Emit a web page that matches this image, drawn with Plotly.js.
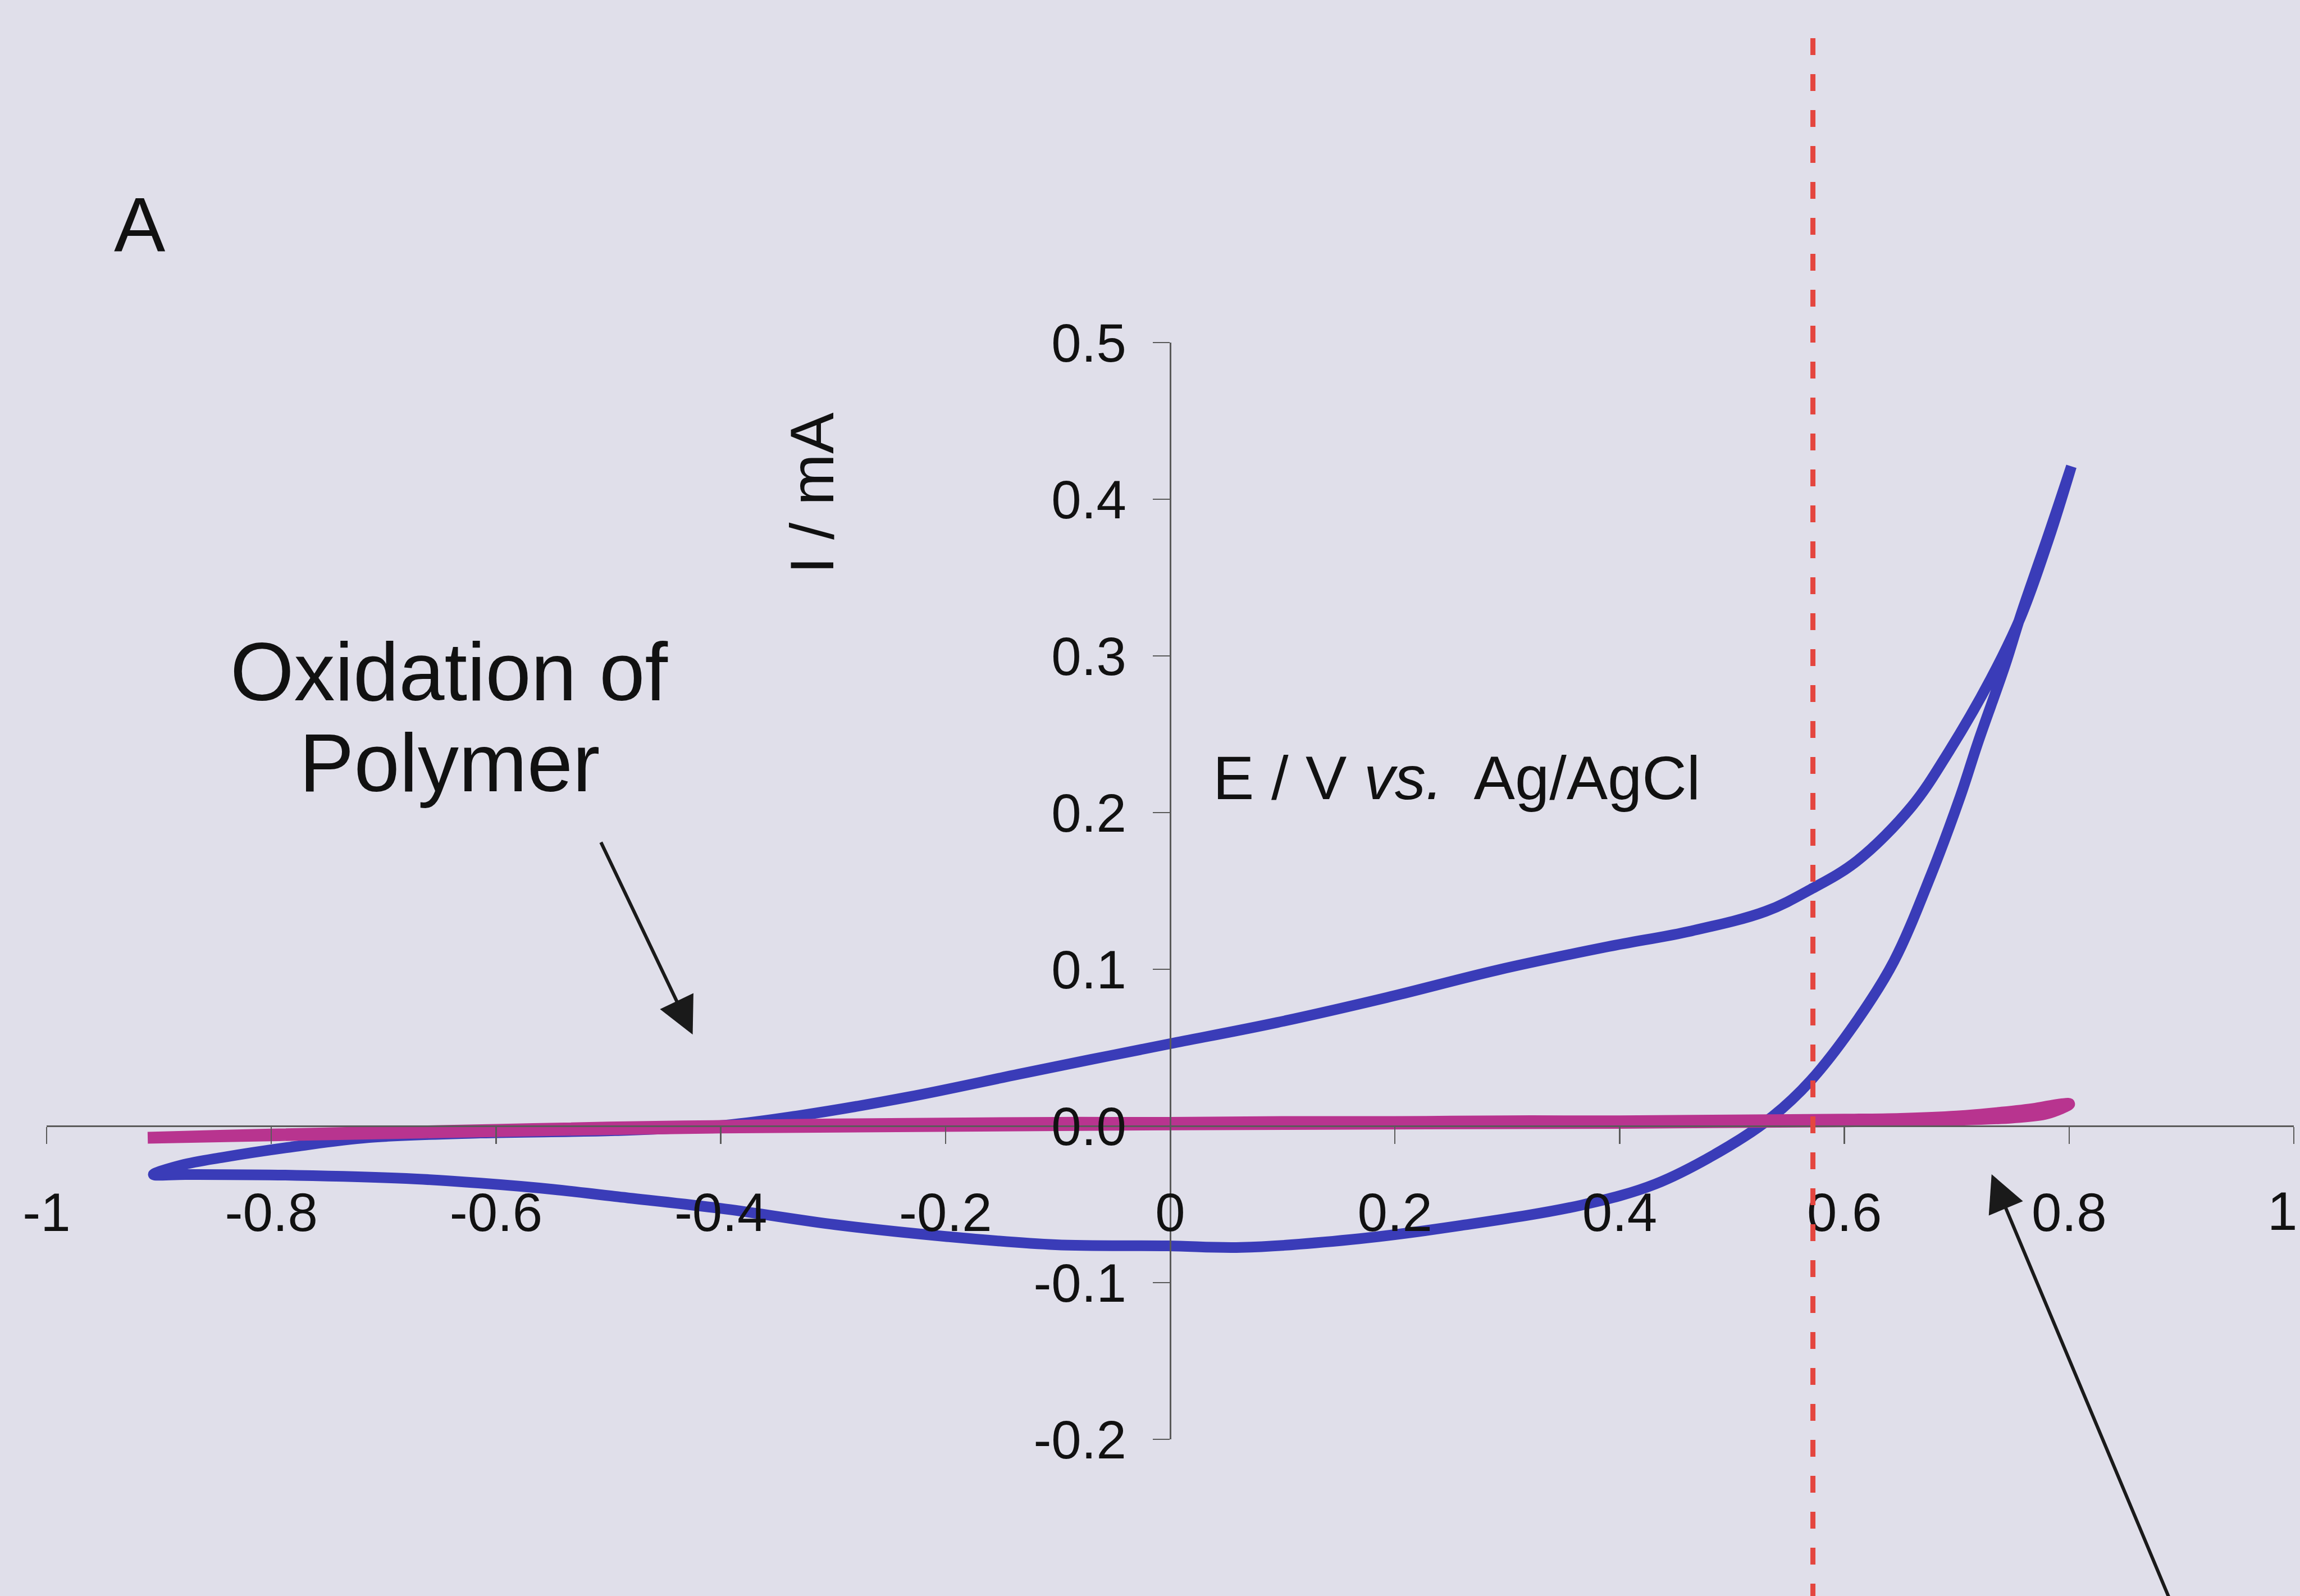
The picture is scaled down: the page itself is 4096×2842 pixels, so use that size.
<!DOCTYPE html>
<html>
<head>
<meta charset="utf-8">
<script src="https://cdn.plot.ly/plotly-3.0.1.min.js"></script>
<style>
  html, body { margin: 0; padding: 0; background: #e0dfea; }
  #chart { width: 4096px; height: 2842px; }
</style>
</head>
<body>
<div id="chart"></div>
<script>
// ---- Data ----
// Polymer-coated electrode CV (blue): forward (upper) branch then reverse (lower) branch
const blueForwardE = [-0.905, -0.880, -0.843, -0.778, -0.713, -0.614, -0.494, -0.396, -0.331, -0.233, -0.135, -0.070, 0.000, 0.095, 0.193, 0.291, 0.390, 0.464, 0.530, 0.570, 0.611, 0.660, 0.693, 0.730, 0.757, 0.782, 0.802];
const blueForwardI = [-0.031, -0.025, -0.020, -0.013, -0.0074, -0.0045, -0.003, 0.0005, 0.0065, 0.0185, 0.033, 0.0425, 0.0525, 0.066, 0.082, 0.0995, 0.1145, 0.1245, 0.137, 0.151, 0.169, 0.204, 0.239, 0.285, 0.325, 0.375, 0.421];
const blueReverseE = [0.802, 0.782, 0.757, 0.743, 0.719, 0.703, 0.677, 0.644, 0.611, 0.570, 0.536, 0.497, 0.432, 0.366, 0.259, 0.161, 0.063, -0.002, -0.102, -0.200, -0.298, -0.396, -0.494, -0.549, -0.614, -0.680, -0.778, -0.876, -0.905];
const blueReverseI = [0.421, 0.378, 0.326, 0.294, 0.245, 0.210, 0.160, 0.105, 0.067, 0.029, 0.006, -0.013, -0.037, -0.0505, -0.0635, -0.0725, -0.0775, -0.0765, -0.0758, -0.0705, -0.063, -0.053, -0.045, -0.0405, -0.0365, -0.0335, -0.0315, -0.031, -0.031];

// Bare electrode CV (magenta)
const magentaE = [-0.910, -0.80, -0.70, -0.60, -0.50, -0.40, -0.30, -0.20, -0.10, 0.00, 0.10, 0.20, 0.30, 0.40, 0.50, 0.60, 0.65, 0.70, 0.74, 0.77, 0.79, 0.80, 0.78, 0.75, 0.70, 0.60, 0.40, 0.00, -0.40, -0.80, -0.910];
const magentaI = [-0.0075, -0.0055, -0.004, -0.0025, -0.001, 0.000, 0.001, 0.0015, 0.002, 0.002, 0.0025, 0.0025, 0.003, 0.003, 0.0035, 0.004, 0.0045, 0.006, 0.0085, 0.011, 0.0135, 0.014, 0.008, 0.0055, 0.004, 0.003, 0.002, 0.001, -0.001, -0.006, -0.0075];

// Marker potential (red dashed line)
const markerE = 0.572;

// Axis ticks (the last x label "1" sits at the page edge, drawn as a separate text)
const xTickVals = [-1, -0.8, -0.6, -0.4, -0.2, 0, 0.2, 0.4, 0.6, 0.8, 1];
const xTickText = ['-1', '-0.8', '-0.6', '-0.4', '-0.2', '0', '0.2', '0.4', '0.6', '0.8', ''];
const xEdgeLabel = '1';
const yTickVals = [-0.2, -0.1, 0, 0.1, 0.2, 0.3, 0.4, 0.5];
const yTickText = ['-0.2', '-0.1', '0.0', '0.1', '0.2', '0.3', '0.4', '0.5'];

// Annotation texts
const panelLabel = 'A';
const oxLine1 = 'Oxidation of';
const oxLine2 = 'Polymer';
const xLabel = 'E / V <i>vs.</i>  Ag/AgCl';
const yLabel = 'I / mA';

// ---- Layout ----
const W = 4096, H = 2842;
const mL = 83, mR = 11, mT = 610, mB = 279;
const xRange = [-1, 1], yRange = [-0.2, 0.5];
const plotW = W - mL - mR, plotH = H - mT - mB;
const px = v => (v - mL) / plotW;          // pixel -> paper x
const py = v => (H - mB - v) / plotH;      // pixel -> paper y

const font = 'Liberation Sans, Arial, sans-serif';
const axisColor = '#5a5a5a';
const bg = '#e0dfea';

const traces = [
  {
    x: blueForwardE.concat(blueReverseE),
    y: blueForwardI.concat(blueReverseI),
    mode: 'lines',
    line: { color: '#3a3cb8', width: 19, shape: 'spline', smoothing: 1.0 },
    hoverinfo: 'skip'
  },
  {
    x: magentaE,
    y: magentaI,
    mode: 'lines',
    line: { color: '#b8348f', width: 21, shape: 'spline', smoothing: 1.0 },
    hoverinfo: 'skip'
  }
];

const layout = {
  width: W, height: H,
  paper_bgcolor: bg, plot_bgcolor: bg,
  margin: { l: mL, r: mR, t: mT, b: mB, pad: 0 },
  showlegend: false,
  hovermode: false,
  font: { family: font, color: '#111' },
  xaxis: {
    range: xRange,
    anchor: 'free',
    position: (0 - yRange[0]) / (yRange[1] - yRange[0]),
    showgrid: false, zeroline: false,
    showline: true, linecolor: axisColor, linewidth: 2.5,
    ticks: 'outside', ticklen: 30, tickwidth: 2.5, tickcolor: axisColor,
    tickmode: 'array', tickvals: xTickVals, ticktext: xTickText,
    tickfont: { family: font, size: 96, color: '#111' },
    ticklabelstandoff: 40,
    ticklabeloverflow: 'allow',
    fixedrange: true
  },
  yaxis: {
    range: yRange,
    anchor: 'free',
    position: (0 - xRange[0]) / (xRange[1] - xRange[0]),
    showgrid: false, zeroline: false,
    showline: true, linecolor: axisColor, linewidth: 2.5,
    ticks: 'outside', ticklen: 30, tickwidth: 2.5, tickcolor: axisColor,
    tickmode: 'array', tickvals: yTickVals, ticktext: yTickText,
    tickfont: { family: font, size: 96, color: '#111' },
    ticklabelstandoff: 28,
    ticklabeloverflow: 'allow',
    fixedrange: true
  },
  shapes: [
    {
      type: 'line', xref: 'x', yref: 'paper',
      x0: markerE, x1: markerE, y0: py(2850), y1: py(40),
      line: { color: '#e4463f', width: 9, dash: '30px,34px' },
      layer: 'above'
    }
  ],
  annotations: [
    {
      text: xEdgeLabel, xref: 'paper', yref: 'paper',
      x: px(4093), y: py(2156), xanchor: 'right', yanchor: 'middle',
      showarrow: false, font: { family: font, size: 96, color: '#111' }
    },
    {
      text: panelLabel, xref: 'paper', yref: 'paper',
      x: px(249), y: py(401), xanchor: 'center', yanchor: 'middle',
      showarrow: false, font: { family: font, size: 137, color: '#111' }
    },
    {
      text: oxLine1, xref: 'paper', yref: 'paper',
      x: px(800), y: py(1196), xanchor: 'center', yanchor: 'middle',
      showarrow: false, font: { family: font, size: 146, color: '#111' }
    },
    {
      text: oxLine2, xref: 'paper', yref: 'paper',
      x: px(800), y: py(1358), xanchor: 'center', yanchor: 'middle',
      showarrow: false, font: { family: font, size: 146, color: '#111' }
    },
    {
      text: xLabel, xref: 'paper', yref: 'paper',
      x: px(2158), y: py(1384), xanchor: 'left', yanchor: 'middle',
      showarrow: false, font: { family: font, size: 110, color: '#111' }
    },
    {
      text: yLabel, xref: 'paper', yref: 'paper',
      x: px(1445), y: py(878), xanchor: 'center', yanchor: 'middle',
      textangle: -90,
      showarrow: false, font: { family: font, size: 110, color: '#111' }
    },
    // arrow pointing at polymer oxidation region
    {
      text: '', xref: 'x', yref: 'y', axref: 'x', ayref: 'y',
      x: -0.425, y: 0.0583, ax: -0.507, ay: 0.1816,
      showarrow: true, arrowhead: 2, arrowsize: 2.2, arrowwidth: 6, arrowcolor: '#1a1a1a',
      standoff: 0, startstandoff: 0
    },
    // arrow pointing at bare electrode curve
    {
      text: '', xref: 'x', yref: 'y', axref: 'x', ayref: 'y',
      x: 0.731, y: -0.0308, ax: 0.900, ay: -0.32,
      showarrow: true, arrowhead: 2, arrowsize: 2.2, arrowwidth: 6, arrowcolor: '#1a1a1a',
      standoff: 0, startstandoff: 0
    }
  ]
};

Plotly.newPlot('chart', traces, layout, { staticPlot: true, displayModeBar: false });
</script>
</body>
</html>
